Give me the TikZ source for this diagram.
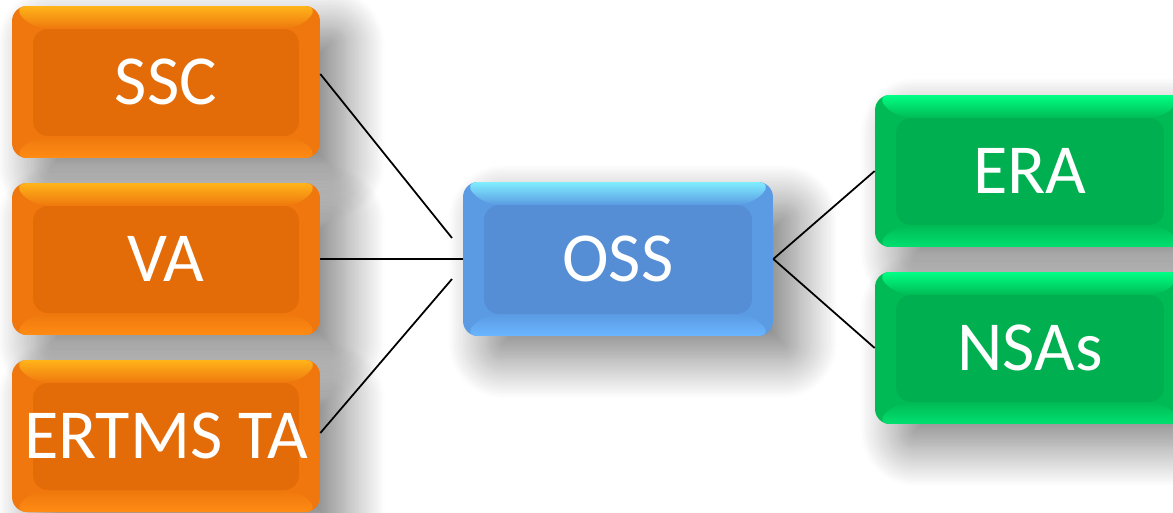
\documentclass[tikz,border=0pt]{standalone}
\usepackage{fontspec}
\setmainfont{Carlito}
\usetikzlibrary{shadows.blur}
\definecolor{orangemain}{HTML}{E36C09}
\definecolor{orangeedge}{HTML}{EF770D}
\definecolor{orangetop}{HTML}{FFB41A}
\definecolor{orangebot}{HTML}{FF8C14}
\definecolor{bluemain}{HTML}{558ED5}
\definecolor{blueedge}{HTML}{5B9BE3}
\definecolor{bluetop}{HTML}{80EEFF}
\definecolor{bluebot}{HTML}{6AB6FF}
\definecolor{greenmain}{HTML}{00B050}
\definecolor{greenedge}{HTML}{00BA55}
\definecolor{greentop}{HTML}{00FF84}
\definecolor{greenbot}{HTML}{00E070}
\begin{document}
\begin{tikzpicture}[x=0.02cm, y=-0.02cm,
        block/.style n args={4}{rounded corners=0.3cm, minimum width=6.16cm, minimum height=3.04cm, inner sep=0pt,
            fill=#2, text=white, font=\fontsize{40}{48}\selectfont,
            blur shadow={shadow xshift=0.5cm, shadow yshift=-0.45cm, shadow blur radius=0.8cm, shadow blur steps=30, shadow opacity=50},
            path picture={
                \coordinate (bsw) at (path picture bounding box.south west);
                \coordinate (bne) at (path picture bounding box.north east);
                \coordinate (bnw) at (bsw |- bne);
                \coordinate (bse) at (bne |- bsw);
                \shade[top color=#3, bottom color=#2] (bnw) -- (bne) -- ([shift={(-0.42cm,-0.46cm)}]bne) -- ([shift={(0.42cm,-0.46cm)}]bnw) -- cycle;
                \shade[top color=#2, bottom color=#4] ([shift={(0.42cm,0.44cm)}]bsw) -- ([shift={(-0.42cm,0.44cm)}]bse) -- (bse) -- (bsw) -- cycle;
                \fill[#1] ([shift={(0.42cm,0.44cm)}]bsw) rectangle ([shift={(-0.42cm,-0.46cm)}]bne);
            }},
        orangeblock/.style={block={orangemain}{orangeedge}{orangetop}{orangebot}},
        blueblock/.style={block={bluemain}{blueedge}{bluetop}{bluebot}, minimum width=6.2cm, minimum height=3.08cm},
        greenblock/.style={block={greenmain}{greenedge}{greentop}{greenbot}, minimum width=6.2cm},
        link/.style={line width=1pt}
    ]
        \useasboundingbox (0,0) rectangle (1173,512);

        \node (ssc) at (166,82) [orangeblock] {SSC};
        \node (va) at (166,259) [orangeblock] {VA};
        \node (ertms) at (166,436) [orangeblock] {ERTMS TA};
        \node (oss) at (618,259) [blueblock] {OSS};
        \node (era) at (1030,171) [greenblock] {ERA};
        \node (nsas) at (1030,348) [greenblock] {NSAs};

        \coordinate (ossup) at (452,238);
        \coordinate (osslow) at (452,279);

        \draw[link] ([yshift=0.16cm]ssc.east) -- (ossup);
        \draw[link] (va.east) -- (oss.west);
        \draw[link] ([yshift=0.06cm]ertms.east) -- (osslow);

        \draw[link] (oss.east) -- (era.west);
        \draw[link] (oss.east) -- (nsas.west);
    \end{tikzpicture}
\end{document}
